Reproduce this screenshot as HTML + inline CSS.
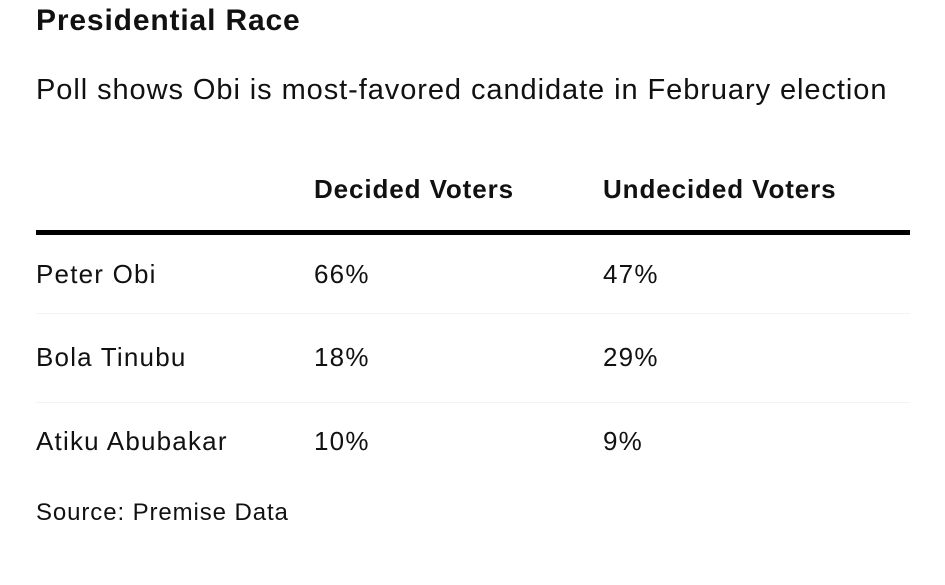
<!DOCTYPE html>
<html><head><meta charset="utf-8"><style>
body{margin:0;width:945px;height:585px;background:#fff;font-family:"Liberation Sans",Arial,sans-serif;color:#111;position:relative;overflow:hidden}
div{position:absolute;white-space:nowrap}
.t{left:36px;top:4px;font-size:30px;font-weight:bold;letter-spacing:0.85px}
.s{left:36px;top:74px;font-size:29px;letter-spacing:0.93px}
.h{font-size:26px;font-weight:bold;top:174px;letter-spacing:0.9px}
.r{font-size:26px;letter-spacing:1.2px}
.rule{left:36px;width:874px;height:5px;top:230px;background:#000}
.sep{left:36px;width:874px;height:1px;background:#f3f3f3}
.src{left:36px;top:499px;font-size:24px;letter-spacing:0.9px}
</style></head><body>
<div class="t">Presidential Race</div>
<div class="s">Poll shows Obi is most-favored candidate in February election</div>
<div class="h" style="left:314px">Decided Voters</div>
<div class="h" style="left:603px">Undecided Voters</div>
<div class="rule"></div>
<div class="r" style="left:36px;top:259px">Peter Obi</div>
<div class="r" style="left:314px;top:259px">66%</div>
<div class="r" style="left:603px;top:259px">47%</div>
<div class="sep" style="top:313px"></div>
<div class="r" style="left:36px;top:342px">Bola Tinubu</div>
<div class="r" style="left:314px;top:342px">18%</div>
<div class="r" style="left:603px;top:342px">29%</div>
<div class="sep" style="top:402px"></div>
<div class="r" style="left:36px;top:426px">Atiku Abubakar</div>
<div class="r" style="left:314px;top:426px">10%</div>
<div class="r" style="left:603px;top:426px">9%</div>
<div class="src">Source: Premise Data</div>
</body></html>
